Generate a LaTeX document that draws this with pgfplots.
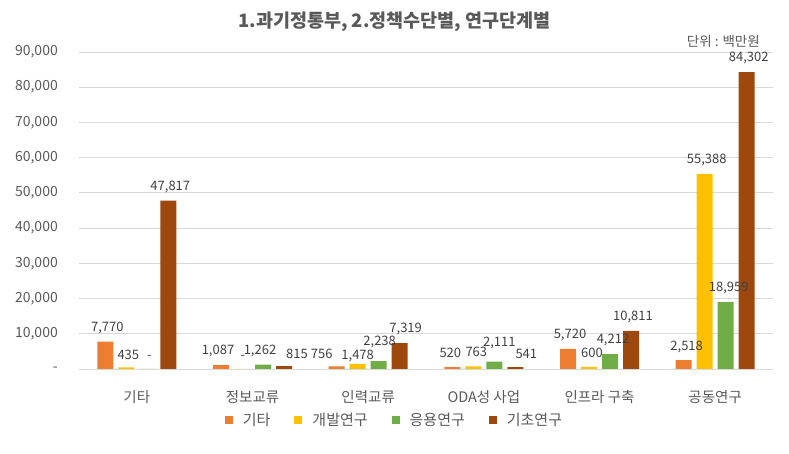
\documentclass[border=0pt]{standalone}
\usepackage{pgfplots}
\pgfplotsset{compat=1.18}
\usepackage{fontspec}
\setmainfont{Noto Sans CJK KR}
\definecolor{cOr}{HTML}{ED7D31}
\definecolor{cYe}{HTML}{FFC000}
\definecolor{cGr}{HTML}{70AD47}
\definecolor{cBr}{HTML}{9E480E}
\definecolor{txt}{HTML}{595959}
\definecolor{lbl}{HTML}{404040}
\definecolor{gridc}{HTML}{D9D9D9}
\begin{document}
\begin{tikzpicture}
\begin{axis}[
  scale only axis, width=694pt, height=317pt,
  xmin=-0.5, xmax=5.5, ymin=0, ymax=90000,
  enlargelimits=false, clip=false,
  ybar=5pt, bar width=16pt,
  axis line style={draw=none},
  xtick style={draw=none}, ytick style={draw=none},
  xmajorgrids=false, ymajorgrids=true,
  grid style={draw=gridc, line width=0.8pt},
  xtick={0,1,2,3,4,5},
  xticklabels={기타,정보교류,인력교류,ODA성 사업,인프라 구축,공동연구},
  ytick={0,10000,20000,30000,40000,50000,60000,70000,80000,90000},
  yticklabels={-,{10,000},{20,000},{30,000},{40,000},{50,000},{60,000},{70,000},{80,000},{90,000}},
  scaled y ticks=false,
  /pgf/number format/assume math mode=true,
  yticklabel style={anchor=east, inner sep=0pt, xshift=-21pt, text=txt, font=\fontsize{14}{16}\selectfont},
  xticklabel style={anchor=center, inner sep=0pt, yshift=-24pt, text=txt, font=\fontsize{14.5}{16}\selectfont},
  point meta=explicit symbolic,
  nodes near coords,
  visualization depends on={\thisrow{dx} \as \lblx},
  visualization depends on={\thisrow{dy} \as \lbly},
  every node near coord/.append style={anchor=center, inner sep=0pt, text=lbl,
     font=\fontsize{13}{15}\selectfont, xshift={\lblx*1pt}, yshift={(14+\lbly)*1pt}},
  legend columns=4,
  legend style={at={(0.4546,-0.1609)}, anchor=center, draw=none, fill=none,
     font=\fontsize{15}{17}\selectfont, text=txt,
     /tikz/every even column/.append style={column sep=22pt},
     /tikz/every odd column/.append style={column sep=8pt}},
]
\addplot[fill=cOr, draw=none, legend image code/.code={\fill[cOr] (0pt,-4pt) rectangle (8pt,4pt);}]
 table[x=x, y=y, meta=lbl] {
x y lbl dx dy
0 7770 7,770 2 0
1 1087 1,087 -3 0
2 756 756 -15 -2
3 520 520 -2 0
4 5720 5,720 2 0
5 2518 2,518 3 -1
};
\addlegendentry{기타}
\addplot[fill=cYe, draw=none, legend image code/.code={\fill[cYe] (0pt,-4pt) rectangle (8pt,4pt);}]
 table[x=x, y=y, meta=lbl] {
x y lbl dx dy
0 435 435 2 -1
1 0 - 1 -2
2 1478 1,478 0 -6
3 763 763 3 0
4 600 600 3 0
5 55388 55,388 2 0
};
\addlegendentry{개발연구}
\addplot[fill=cGr, draw=none, legend image code/.code={\fill[cGr] (0pt,-4pt) rectangle (8pt,4pt);}]
 table[x=x, y=y, meta=lbl] {
x y lbl dx dy
0 0 - 2 -2
1 1262 1,262 -3 0
2 2238 2,238 1 5
3 2111 2,111 5 5
4 4212 4,212 3 0
5 18959 18,959 3 0
};
\addlegendentry{응용연구}
\addplot[fill=cBr, draw=none, legend image code/.code={\fill[cBr] (0pt,-4pt) rectangle (8pt,4pt);}]
 table[x=x, y=y, meta=lbl] {
x y lbl dx dy
0 47817 47,817 2 0
1 815 815 13 -2
2 7319 7,319 6 0
3 541 541 11 -1
4 10811 10,811 2 0
5 84302 84,302 2 0
};
\addlegendentry{기초연구}
\end{axis}
\node[text=txt, font=\bfseries\fontsize{18.5}{21}\selectfont] at ([shift={(315.5pt,347pt)}]current axis.south west) {1.과기정통부, 2.정책수단별, 연구단계별};
\node[text=txt, anchor=east, inner sep=0pt, font=\fontsize{13.5}{15}\selectfont] at ([shift={(681pt,328pt)}]current axis.south west) {단위 : 백만원};
\pgfresetboundingbox
\path[use as bounding box] ([shift={(-79pt,-85pt)}]current axis.south west) rectangle ([shift={(710pt,369pt)}]current axis.south west);
\end{tikzpicture}
\end{document}
